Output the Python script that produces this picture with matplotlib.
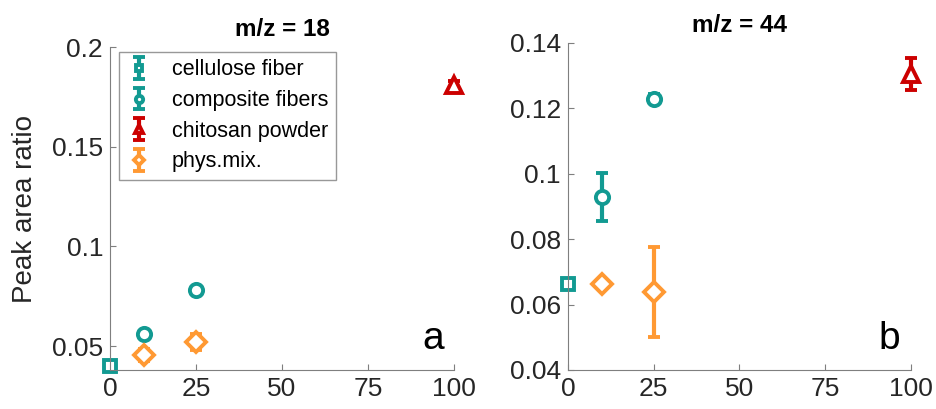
import matplotlib.pyplot as plt
import numpy as np

plt.rcParams['font.family'] = ['Liberation Sans', 'DejaVu Sans']

# m/z = 18
x18_cell = [0]
y18_cell = [0.040]
e18_cell = [0.0005]
x18_comp = [10, 25]
y18_comp = [0.056, 0.078]
e18_comp = [0.001, 0.001]
x18_chit = [100]
y18_chit = [0.181]
e18_chit = [0.002]
x18_mix = [10, 25]
y18_mix = [0.0455, 0.052]
e18_mix = [0.003, 0.004]

# m/z = 44
x44_cell = [0]
y44_cell = [0.0663]
e44_cell = [0.001]
x44_comp = [10, 25]
y44_comp = [0.0929, 0.123]
e44_comp = [0.0072, 0.0015]
x44_chit = [100]
y44_chit = [0.1305]
e44_chit = [0.0048]
x44_mix = [10, 25]
y44_mix = [0.0663, 0.0639]
e44_mix = [0.0012, 0.0138]

labels = ["cellulose fiber", "composite fibers", "chitosan powder", "phys.mix."]
teal = "#129a92"
red = "#cc0000"
orange = "#ff9933"
gray = "#7f7f7f"
txt = "#262626"

fig = plt.figure(figsize=(9.37, 4.09), dpi=100)
ax1 = fig.add_axes([0.1174, 0.0954, 0.3671, 0.7896])
ax2 = fig.add_axes([0.606, 0.0954, 0.366, 0.7996])


def draw(ax, data):
    styles = [("s", teal, 9), ("o", teal, 9.5), ("^", red, 11), ("D", orange, 10)]
    for (x, y, e), (m, c, ms), lab in zip(data, styles, labels):
        ax.errorbar(x, y, yerr=e, fmt=m, color=c, ms=ms, mew=2.8, mfc="white",
                    elinewidth=3, capsize=4, capthick=3, label=lab, clip_on=False)
    ax.set_xlim(0, 100)
    ax.set_xticks([0, 25, 50, 75, 100])
    for s in ["top", "right"]:
        ax.spines[s].set_visible(False)
    for s in ["left", "bottom"]:
        ax.spines[s].set_color(gray)
    ax.tick_params(direction="in", length=4, color=gray, labelsize=19, labelcolor=txt, pad=5)


draw(ax1, [(x18_cell, y18_cell, e18_cell), (x18_comp, y18_comp, e18_comp),
           (x18_chit, y18_chit, e18_chit), (x18_mix, y18_mix, e18_mix)])
ax1.set_ylim(0.038, 0.2)
ax1.set_yticks([0.05, 0.1, 0.15, 0.2])
ax1.set_yticklabels(["0.05", "0.1", "0.15", "0.2"])
ax1.set_ylabel("Peak area ratio", fontsize=20, color=txt, labelpad=10)
ax1.set_title("m/z = 18", fontsize=17.5, fontweight="bold", pad=8)
ax1.text(0.97, 0.04, "a", transform=ax1.transAxes, fontsize=28, ha="right", va="bottom")
leg = ax1.legend(loc="upper left", bbox_to_anchor=(0.026, 0.985), fontsize=15.5, markerscale=0.55,
                 frameon=True, fancybox=False, edgecolor=gray, handlelength=1.2,
                 labelspacing=0.45, borderpad=0.35, handletextpad=0.9, borderaxespad=0)
leg.get_frame().set_linewidth(1)

draw(ax2, [(x44_cell, y44_cell, e44_cell), (x44_comp, y44_comp, e44_comp),
           (x44_chit, y44_chit, e44_chit), (x44_mix, y44_mix, e44_mix)])
ax2.set_ylim(0.04, 0.14)
ax2.set_yticks([0.04, 0.06, 0.08, 0.1, 0.12, 0.14])
ax2.set_yticklabels(["0.04", "0.06", "0.08", "0.1", "0.12", "0.14"])
ax2.set_title("m/z = 44", fontsize=17.5, fontweight="bold", pad=8)
ax2.text(0.97, 0.04, "b", transform=ax2.transAxes, fontsize=28, ha="right", va="bottom")

fig.savefig("out.png", dpi=100)
